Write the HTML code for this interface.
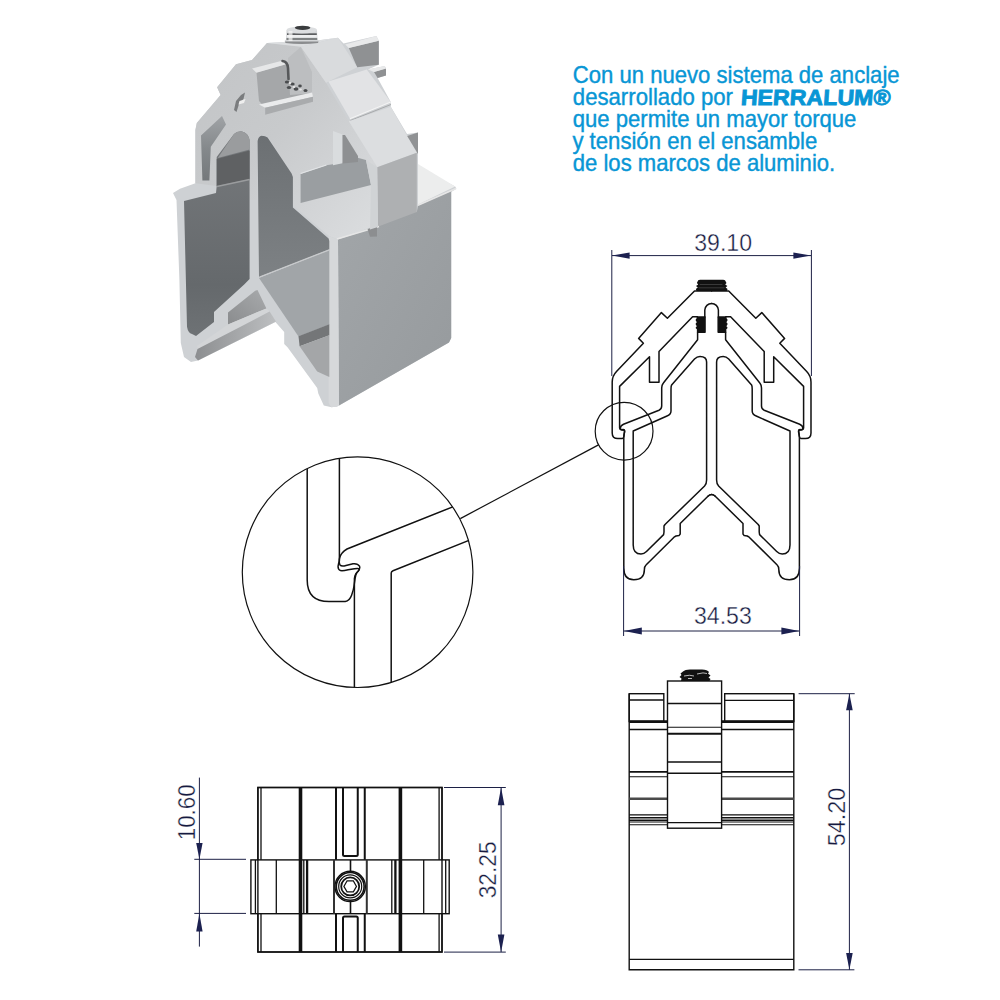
<!DOCTYPE html>
<html><head><meta charset="utf-8">
<style>
html,body{margin:0;padding:0;background:#fff;}
body{width:1000px;height:1000px;overflow:hidden;position:relative;font-family:"Liberation Sans",sans-serif;}
svg{position:absolute;left:0;top:0;}
</style></head><body>
<svg width="1000" height="1000" viewBox="0 0 1000 1000">
<g id="obj3d"><g id="obj">
<defs>
<linearGradient id="gChL" x1="0" y1="0" x2="0" y2="1"><stop offset="0" stop-color="#777a7d"/><stop offset="0.75" stop-color="#65696c"/><stop offset="1" stop-color="#6e7275"/></linearGradient>
<linearGradient id="gChR" x1="0" y1="0" x2="0" y2="1"><stop offset="0" stop-color="#6c7073"/><stop offset="1" stop-color="#7d8184"/></linearGradient>
<linearGradient id="gWall" x1="0" y1="0" x2="1" y2="1"><stop offset="0" stop-color="#a2a6a9"/><stop offset="1" stop-color="#969a9d"/></linearGradient>
<linearGradient id="gCavL" x1="0" y1="0" x2="0" y2="1"><stop offset="0" stop-color="#a0a3a6"/><stop offset="0.5" stop-color="#85898c"/><stop offset="1" stop-color="#74787b"/></linearGradient>
<linearGradient id="gUnder" x1="0" y1="0" x2="1" y2="0"><stop offset="0" stop-color="#8c8e90"/><stop offset="1" stop-color="#bdbfc1"/></linearGradient>
<linearGradient id="gDarkBand" x1="1" y1="0" x2="0" y2="1"><stop offset="0" stop-color="#a8aaac"/><stop offset="1" stop-color="#8a8c8e"/></linearGradient>
<linearGradient id="gFloorR" x1="0" y1="0" x2="1" y2="0"><stop offset="0" stop-color="#8a8c8e"/><stop offset="1" stop-color="#b2b4b6"/></linearGradient>
<linearGradient id="gCapFront" x1="0" y1="0" x2="1" y2="1"><stop offset="0" stop-color="#c2c4c6"/><stop offset="0.45" stop-color="#c8cacc"/><stop offset="1" stop-color="#dcdee0"/></linearGradient>
</defs>
<!-- base silhouette -->
<path fill="#ced1d4" d="M267,43 L285,42 L319,40.2 L338,37.8 L343.5,43.5 L376.4,36 L378.8,40.8 L378.8,64.8 L368,69.6 L384.8,66 L386,68.4 L386,75.6 L377.6,78 L390.8,102 L390.8,106.8 L407,134 L418,132.4 L418,167 L455.2,186.4 L456.4,188.8 L451.2,192 L451.2,338 L449,342.5 L339,405.5 L337,406.7 L330.4,407 L323.8,405.6 L318.3,393.5 L317.2,388 L287.5,347.3 L284.2,344 L284.2,332 L275.4,322 L198,360.5 L191,362 L184,357 L180.8,343 L179.4,280 L176.5,200 L173,193 L180,188.8 L195.4,183.2 L195.4,130 L196.8,123 L220.6,95 L217.1,87.3 L236,64.2 L252,60 Z"/>
<!-- cap front face (slightly darker) -->
<path fill="url(#gCapFront)" d="M267,43 L300.8,46 L326,82.8 L348.8,121.2 L377.2,167.2 L379.6,224 L338,239.5 L329,236 L292.9,205 L292.9,176 L268,137 L262,135.5 L257.6,140 L257.6,200 L249.6,200 L249.6,140 L245,132 L238.8,131.4 L234,134 L217.8,156.6 L216.7,186 L195.4,183.2 L195.4,130 L196.8,123 L220.6,95 L217.1,87.3 L236,64.2 L252,60 Z"/>
<path fill="#dcdee0" d="M267,43 L285,42 L319,40.2 L338,37.8 L300.8,46.8 Z"/>
<!-- R1 rail -->
<path fill="#8f9193" d="M348.8,48 L378.8,40.8 L378.8,64.8 L357.2,67.2 Z"/>
<path fill="#e8e9ea" d="M345.2,44.4 L376.4,36 L378.8,40.8 L348.8,48 Z"/>
<!-- R2 -->
<path fill="#8f9193" d="M374,72 L386,68.4 L386,75.6 L377.6,78 Z"/>
<path fill="#e8e9ea" d="M368,69.6 L384.8,66 L386,68.4 L374,72 Z"/>
<!-- cap upper-right face -->
<path fill="#d9dbdd" d="M300.8,46.8 L338,37.8 L357.2,67.2 L328.4,81.6 L326,82.8 Z"/>
<!-- cap shoulder face -->
<path fill="#e2e3e5" d="M328.4,81.6 L366.8,69.6 L390.8,102 L350,118.8 Z"/>
<path fill="none" stroke="#f4f4f4" stroke-width="1.2" d="M350,118.8 L390.8,102"/>
<path fill="none" stroke="#a8aaac" stroke-width="1" d="M350.5,120.5 L391,104.5"/>
<!-- cap lower right face -->
<path fill="#dcdee0" d="M348.8,121.2 L390.8,106.8 L416.8,152.8 L377.2,167.2 Z"/>
<!-- small back face right of cap -->
<path fill="#909294" d="M407.2,136 L418,132.4 L418,154 Z"/>
<!-- cap leg front face (right) -->
<path fill="#aeb0b2" d="M377.2,167.2 L416.8,152.8 L416.8,219 L378,237 Z"/>
<!-- right wall lip top -->
<path fill="#eceded" d="M418,164 L455.2,186.4 L418,204.4 Z"/>
<!-- right wall face -->
<path fill="url(#gWall)" d="M338,239.5 L379.6,226 L416.8,212 L418,205.6 L451.2,191 L451.2,338 L449,342.5 L339,405.5 Z"/>
<path fill="none" stroke="#e6e6e6" stroke-width="1.6" d="M337,239 L379,226.5 M418,205.2 L456,188.6"/>
<!-- right front edge strip of right wall -->
<path fill="#d6d8da" d="M328.6,236 L338,239.5 L339,405.5 L331.4,407.5 L328.6,403 Z"/>

<!-- slot on cap front -->
<path fill="#a5a7a9" d="M256.5,72.5 L285,64.6 L290,64 L300,60 L312,93.2 L265.2,107.6 L259,101 Z"/>
<path fill="#e6e7e8" d="M252,68.5 L283,60.5 L286,64.2 L256.5,72.8 Z"/>
<path fill="#bcbec0" d="M288,58 L300.8,47 L312,72 L312,93.2 L290,95 Z"/>
<path fill="#eaebec" d="M259,104.5 L312,92.6 L313,96.8 L265.2,107.8 Z"/>
<path fill="#a9abad" d="M265.2,107.8 L313,96.8 L313,101.8 L265.2,114.8 Z"/>
<!-- wire -->
<path fill="none" stroke="#56585a" stroke-width="2.6" stroke-linecap="round" d="M282.5,61 Q287.5,61.5 288,68 L288.5,79"/>
<g fill="#4a4c4e">
<ellipse cx="287" cy="82" rx="2.2" ry="1.6"/><ellipse cx="292.5" cy="84" rx="2.2" ry="1.6"/>
<ellipse cx="289" cy="87.5" rx="2.2" ry="1.6"/><ellipse cx="296" cy="89" rx="2.4" ry="1.8"/>
<ellipse cx="300" cy="86" rx="1.8" ry="1.4"/><ellipse cx="305.5" cy="90.5" rx="2" ry="1.5"/>
</g>
<g fill="#e8e8e8"><ellipse cx="290" cy="83" rx="1.3" ry="0.9"/><ellipse cx="294" cy="87" rx="1.3" ry="0.9"/><ellipse cx="300.5" cy="89.5" rx="1.4" ry="0.9"/></g>
<!-- screw -->
<g>
<path fill="#d4d6d8" d="M286.5,30 L317,30 L317.5,39.5 L319,41 L317.5,43 Q302,45.5 285.5,43 L284.5,41 L286,39.5 Z"/>
<path fill="#5c5e60" d="M287,33.3 L316.8,33.3 L316.8,35 L287,35 Z"/>
<path fill="#eeeff0" d="M287,35 L316.8,35 L316.8,37.4 L287,37.4 Z"/>
<path fill="#6a6c6e" d="M286.5,38.2 L317.2,38.2 L317.2,39.8 L286.5,39.8 Z"/>
<path fill="#8a8c8e" d="M285,41.6 L318.5,41.6 L318,43 Q302,45 285.5,43 Z"/>
<ellipse cx="301.8" cy="30" rx="15.2" ry="3.4" fill="#dcdee0"/>
<ellipse cx="302.6" cy="27.8" rx="7.8" ry="2.1" fill="#3a3c3e"/>
<path fill="#f6f6f6" d="M288.5,31 L292.5,31 L292.5,41 L288.5,41 Z" opacity="0.7"/>
</g>

<!-- small dark mark on cap left shoulder -->
<path fill="#7a7c7e" d="M241,95 L245,92.5 L243.5,99 L239,104 L236.5,112 L234,110 L236,101 Z"/>
<path fill="#eeeeee" d="M239.5,101 L245.5,99 L244,103 L238.5,104.5 Z"/>
<!-- small notch near wall top -->
<path fill="#8c8e90" d="M367.6,229 L377,226 L377,236.5 L370,236.8 Z"/>
<!-- left cavity -->
<path fill="url(#gCavL)" d="M201,135.6 L222,116 L226,124.4 L210.8,146.8 L209.4,180.4 L202.4,180.4 Z"/>
<!-- left chamber -->
<path fill="url(#gChL)" d="M216.7,157 L216.7,186 L216,193 L184,201 L187,326.8 Q188,333 192,334 L196,336 L214,322 L214,312 L244.2,284.5 L249.6,279 L249.6,140 Q248,132.5 242,131.4 Q237,131 234,134 Z"/>
<path fill="#9a9c9e" d="M234,134 Q237,131 242,131.4 Q248,132.5 249.6,140 L249.6,149.6 L217.8,158 Z"/>
<path fill="#5f6163" d="M216.7,159 L249.6,150.6 L249.6,179 L216.7,186 Z"/>
<path fill="none" stroke="#9a9c9e" stroke-width="1.5" d="M217,186.5 L249.6,179.5"/>
<!-- right chamber -->
<path fill="url(#gChR)" d="M257.6,141 Q258.5,136 261.6,135.8 Q265.5,135.8 267.6,137.6 L291.6,173.6 L292.9,177 L292.9,207.6 L328.6,238.4 L329.3,241 L329.3,249.6 L259,277 Z"/>
<!-- right chamber floor -->
<path fill="#a1a5a8" d="M259,278 L329.3,250 L329.3,324.5 L298.5,336.5 Z"/>
<path fill="none" stroke="#c8cacc" stroke-width="1.3" d="M259.5,277 L329.3,249.8"/>
<path fill="#747678" d="M298.5,336.3 L329.3,324.2 L329.3,335.2 L299.6,346.2 Z"/>
<path fill="#a4a6a8" d="M299.6,346.2 L329.3,335.2 L329.3,377 L317.2,371.5 Z"/>
<!-- under left arm -->
<path fill="url(#gDarkBand)" d="M228,312.4 L255.2,290.8 L257.5,290 L266.4,308.4 L228,324.4 Z"/>
<path fill="#d3d5d7" d="M228,324.4 L266.4,308.4 L269.6,311.6 L198,349.5 L197,346 Z"/>
<path fill="url(#gUnder)" d="M197.5,349 L269.6,311.6 L276,321.5 L198,360.5 L195,357 Z"/>
<!-- right arm lower faces -->

<!-- gray bar right of chamber (cap leg side) -->
<path fill="#9a9ea1" d="M300.6,174 L326.4,165.2 L342.3,162.8 L357.7,157.7 L366,160 L371,185 L300.6,203 Z"/><path fill="#d0d3d5" d="M366,160 L377.2,167.2 L378,227 L370,229.5 L371,185 Z"/>
<path fill="none" stroke="#e2e4e6" stroke-width="1.3" d="M300.6,173.5 L326.4,165"/>
<path fill="#d9dcde" d="M333,131 L342.5,134.5 L342.5,163.3 L333,165.2 Z"/>
<!-- right cavity -->
<path fill="#8e9092" d="M342.5,135 L345,135 L358,156 L358,162 L342.5,163.5 Z"/>
</g>
</g>
<!-- CROSS SECTION -->
<g id="xs" fill="none" stroke="#111" stroke-width="1.5" stroke-linejoin="round" stroke-linecap="round">
  <g id="xsl">
    <!-- cap outer + inner -->
    <path d="M711.6,291 L694.5,291 L667.4,318.2 L661.4,312.6 L638.6,338.4 L643.4,343.2 L616.5,371.5 Q612.2,376 612.2,382 L612.2,433 Q612.2,438.6 617.8,438.6 L622.3,438.6 Q623.6,438.3 623.9,436 L624.5,431.2 Q624.7,429.6 623.2,429.6 L621.2,429.7 Q619.6,429.7 619.6,428 L619.6,386.4 L649.5,356.8 L649.5,382.2 L659,382.2 L659,351.6 L692.6,316.8 L697.4,316.8"/>
    <!-- cap inner groove -->
    <path d="M704.8,317 L704.8,310 A6.9,6.9 0 0 1 711.6,303.4"/>
    <!-- profile outer -->
    <path d="M704.8,317 L704.8,332.3 L697.6,332.3 L697.6,339.8 L663.2,383.2 Q661.7,385 661.7,388 L661.7,406 Q661.7,409 659,410.2 L623.5,424.3 Q620.3,425.8 620.3,428.2 Q620.8,430.2 622.8,430 L623.9,429.9 Q625.2,431 624.4,433 Q623.8,435 623.8,438 L623.8,568 Q623.8,579.8 633.8,579.8 Q644.4,579.8 644.4,569.5 Q644.4,566.5 646,565 L674,537.2 L676,536 L679,535.6 L680.2,534 L680.2,523.5 L708.2,496 Q711.6,493 715,496"/>
    <!-- left chamber -->
    <path d="M633.2,431 L633.2,545 Q633.2,554 641,554 Q644,554 646.5,551.5 L663.6,534.6 L664,532 L664,526 L665,524.5 L704.6,486 Q706.6,484 706.6,480 L706.6,362 Q706.6,356.4 700,356.4 Q697,356.4 694.5,359 L671.6,385 Q671,386 671,389 L671,411 Q671,414.5 667,416 Z"/>
    <!-- thread block -->
    <path d="M697.4,317 L704.8,317 L704.8,332.3 L697.6,332.3 L697.6,329 L696.4,327.8 L697.6,326 L696.4,324 L697.6,322 L696.4,320 L697.4,318.5 Z" fill="#111"/>
  </g>
  <use href="#xsl" transform="translate(1423.2,0) scale(-1,1)"/>
  <path d="M698.2,280.3 Q699,279.8 700,279.8 L723.2,279.8 Q724.2,279.8 725,280.3 L726.5,283 L725.2,284.6 L727.4,286 L725.6,287.6 L727.6,289 L726.8,291 L696.6,291 L695.8,289 L697.8,287.6 L696,286 L698.2,284.6 L696.9,283 Z" fill="#111" stroke="none"/>
  <path d="M700,284.5 H722 M699,287.8 H724" stroke="#555" stroke-width="0.6"/>
</g>
<!-- dims for cross section -->
<g fill="none" stroke="#1c2045" stroke-width="1">
  <path d="M611.8,250 V376 M811.4,250 V376 M612,255.6 H811"/>
  <path d="M623.6,566 V636 M799.6,566 V636 M624,631 H799"/>
</g>
<g fill="#1c2150">
  <path d="M612,255.6 L629.6,252.4 L629.6,258.8 Z"/>
  <path d="M811,255.6 L793.4,252.4 L793.4,258.8 Z"/>
  <path d="M624,631 L641.8,627.6 L641.8,634.4 Z"/>
  <path d="M799.2,631 L781.4,627.6 L781.4,634.4 Z"/>
</g>
<g font-family="Liberation Sans" font-size="23" fill="#161a40" stroke="#fff" stroke-width="0.35">
  <text x="694.2" y="250.7" textLength="57.8" lengthAdjust="spacingAndGlyphs">39.10</text>
  <text x="694" y="624.2" textLength="57.8" lengthAdjust="spacingAndGlyphs">34.53</text>
</g>
<!-- DETAIL -->
<defs><clipPath id="dc"><circle cx="357.6" cy="572.2" r="115.3"/></clipPath></defs>
<g fill="none" stroke="#111" stroke-width="1.2">
  <circle cx="357.6" cy="572.2" r="115.3"/>
  <circle cx="624.1" cy="431.2" r="28.9"/>
  <path d="M460.3,518.6 L598.5,444.9"/>
  <g clip-path="url(#dc)" stroke-width="1.5">
    <path d="M307.2,440 L307.2,580 Q307.2,601.6 329,601.6 L345.3,601.6 Q349.5,601 351.6,595.3 Q353.5,590 354,586 L355.1,578.5 Q355.5,574.5 357,572.5 Q359.8,569.8 358.8,568.6 Q357.5,568.2 354.4,568.7 L348.1,569.8 Q343,571 340.5,570.6 Q337.8,569.5 338.1,566 Q338.5,563 339.4,561 L339.4,440"/>
    <path d="M354.4,700 L354.4,578.5 Q355,573.5 357.9,571.5 Q360.5,568.5 359.5,566.2 Q357.8,563.2 353,563.7 L346,565.5 Q341.5,566.8 340,565 Q338.6,562 339.6,558 Q341,552.5 347,549 L480,496"/>
    <path d="M391.2,700 L391.2,573 Q391.2,571.5 393,570.8 L480,536"/>
  </g>
</g>
<!-- BOTTOM LEFT VIEW -->
<g fill="none" stroke="#111" stroke-width="1.4">
  <rect x="257.9" y="787.5" width="184.1" height="164.5"/>
  <path stroke-width="1.3" d="M261,787.5 V952 M439.1,787.5 V952"/>
  <path stroke-width="2" d="M336,787.5 V859.7 M364.75,787.5 V859.7 M336,913.6 V952 M364.75,913.6 V952"/>
  <path stroke-width="3.6" d="M300.5,787.5 V952 M400.4,787.5 V952"/>
  <path stroke-width="2" d="M343,787.5 V854.5 Q343,856 344.5,856 H356.25 Q357.75,856 357.75,854.5 V787.5"/>
  <path stroke-width="2" d="M343,952 V918 Q343,916.5 344.5,916.5 H356.25 Q357.75,916.5 357.75,918 V952"/>
  <rect x="250.9" y="859.9" width="198.3" height="53.8" fill="#fff"/>
  <path stroke-width="1.3" d="M255.4,859.9 V913.7 M276.3,859.9 V913.7 M303.8,859.9 V913.7 M391.8,859.9 V913.7 M423.7,859.9 V913.7 M445.7,859.9 V913.7"/>
  <path stroke-width="2.3" d="M307.1,859.9 V913.7 M395.4,859.9 V913.7"/>
  <path stroke-width="3.6" d="M300.5,859.9 V913.7 M400.4,859.9 V913.7"/>
  <path stroke-width="2" stroke="#333" d="M334,859.9 V913.7 M366.8,859.9 V913.7"/><path stroke-width="1.6" d="M350.5,859.9 V872 M350.5,900.5 V913.7"/>
  <circle cx="350.2" cy="886.4" r="15.2" fill="#fff" stroke-width="1.4"/>
  <circle cx="350.2" cy="886.4" r="13.9" stroke-width="1.6"/>
  <circle cx="350.2" cy="886.4" r="11.5" stroke-width="1.2"/>
  <circle cx="350.2" cy="886.4" r="9" stroke-width="1.8"/>
  <path stroke-width="1.2" d="M356.5,886.4 L353.35,891.85 L347.05,891.85 L343.9,886.4 L347.05,880.95 L353.35,880.95 Z"/>
  <rect x="257.9" y="787.5" width="184.1" height="164.5" fill="none"/>
</g>
<!-- BOTTOM RIGHT VIEW -->
<g fill="none" stroke="#111" stroke-width="1.4">
  <path d="M629.2,693.7 V969.8 H793.8 V693.7"/>
  <rect x="629.2" y="693.7" width="34.6" height="27.8"/>
  <rect x="724.7" y="693.7" width="69.1" height="27.8"/>
  <path stroke-width="1.3" d="M629.2,700 H663.8 M724.7,700.3 H793.8 M629.2,959.4 H793.8"/>
  <path stroke-width="2.6" d="M629.2,721.6 H667.5 M721.6,721.6 H793.8"/>
  <path stroke-width="1.6" d="M629.2,729.5 H667.5 M721.6,729.5 H793.8 M629.2,771.9 H667.5 M721.6,771.9 H793.8 M629.2,817.7 H667.5 M721.6,817.7 H793.8 M629.2,820.2 H667.5 M721.6,820.2 H793.8"/>
  <path stroke-width="1.1" d="M629.2,776.8 H667.5 M721.6,776.8 H793.8 M629.2,814.9 H667.5 M721.6,814.9 H793.8 M629.2,822 H667.5 M721.6,822 H793.8 M629.2,824.7 H667.5 M721.6,824.7 H793.8"/>
  <path stroke-width="2.6" stroke="#4a4a4a" d="M629.2,798.8 H667.5 M721.6,798.8 H793.8"/>
  <rect x="667.5" y="681" width="54.1" height="147.2" fill="#fff"/>
  <path stroke-width="1.5" d="M667.5,703.5 H721.6 M667.5,762 H721.6 M667.5,773.3 H721.6"/>
  <path stroke-width="1.1" d="M667.5,727.2 H721.6 M667.5,822.6 H721.6"/>
  <path stroke-width="1.9" d="M667.5,733.8 H721.6"/>
  <path fill="#111" stroke="none" d="M681,681 L681.5,678.5 L679.5,677 L681.5,675 L680.5,673.5 L683,671.5 Q685,669.5 690,669.5 L702,669.5 Q707.5,669.5 709,672 L708,673.5 L710.5,675.5 L708.5,677.5 L710.5,679 L709.5,681 Z"/>
  <path fill="none" stroke="#fff" stroke-width="0.7" d="M684,676 Q690,674.5 694,676 M697,674 Q704,672 707,673.5 M688,678.5 L692,678.5"/>
</g>
<!-- dims bottom -->
<g fill="none" stroke="#1c2045" stroke-width="1">
  <path d="M199.4,777.6 V946.6 M194.3,859.3 H246 M194.3,913.4 H246"/>
  <path d="M501.1,787.5 V952.1 M444,787.5 H505.8 M444,952.1 H505.8"/>
  <path d="M849.4,693.7 V969.8 M798.6,693.7 H854.7 M798.5,969.8 H854.4"/>
</g>
<g fill="#1c2150">
  <path d="M199.4,859.3 L196.2,843 L202.6,843 Z"/>
  <path d="M199.4,913.4 L196.2,931.4 L202.6,931.4 Z"/>
  <path d="M501.1,787.5 L497.8,805.2 L504.4,805.2 Z"/>
  <path d="M501.1,952.1 L497.8,934.4 L504.4,934.4 Z"/>
  <path d="M849.4,693.7 L846.1,710.2 L852.7,710.2 Z"/>
  <path d="M849.4,969.8 L846.1,952.9 L852.7,952.9 Z"/>
</g>
<g font-family="Liberation Sans" font-size="24" fill="#161a40" stroke="#fff" stroke-width="0.35">
  <text transform="translate(194.7,840.3) rotate(-90)" textLength="56" lengthAdjust="spacingAndGlyphs">10.60</text>
  <text transform="translate(496.3,898.3) rotate(-90)" textLength="57" lengthAdjust="spacingAndGlyphs">32.25</text>
  <text transform="translate(845.4,846.3) rotate(-90)" textLength="58.5" lengthAdjust="spacingAndGlyphs">54.20</text>
</g>
<g font-family="Liberation Sans" font-size="23.4" fill="#0896d5" stroke="#0896d5" stroke-width="0.4">
  <text x="572.8" y="82.7" textLength="326.8" lengthAdjust="spacingAndGlyphs">Con un nuevo sistema de anclaje</text>
  <text x="572.8" y="104.8" textLength="160.2" lengthAdjust="spacingAndGlyphs">desarrollado por</text>
  <text x="740.4" y="104.8" textLength="149.6" lengthAdjust="spacingAndGlyphs" font-weight="bold" font-size="22" stroke-width="0.9" transform="translate(0,104.8) skewX(-4) translate(0,-104.8)">HERRALUM®</text>
  <text x="572.8" y="126.9" textLength="283.6" lengthAdjust="spacingAndGlyphs">que permite un mayor torque</text>
  <text x="572.4" y="149" textLength="244.9" lengthAdjust="spacingAndGlyphs">y tensión en el ensamble</text>
  <text x="572.8" y="171" textLength="262.4" lengthAdjust="spacingAndGlyphs">de los marcos de aluminio.</text>
</g>
</svg>

</body></html>
